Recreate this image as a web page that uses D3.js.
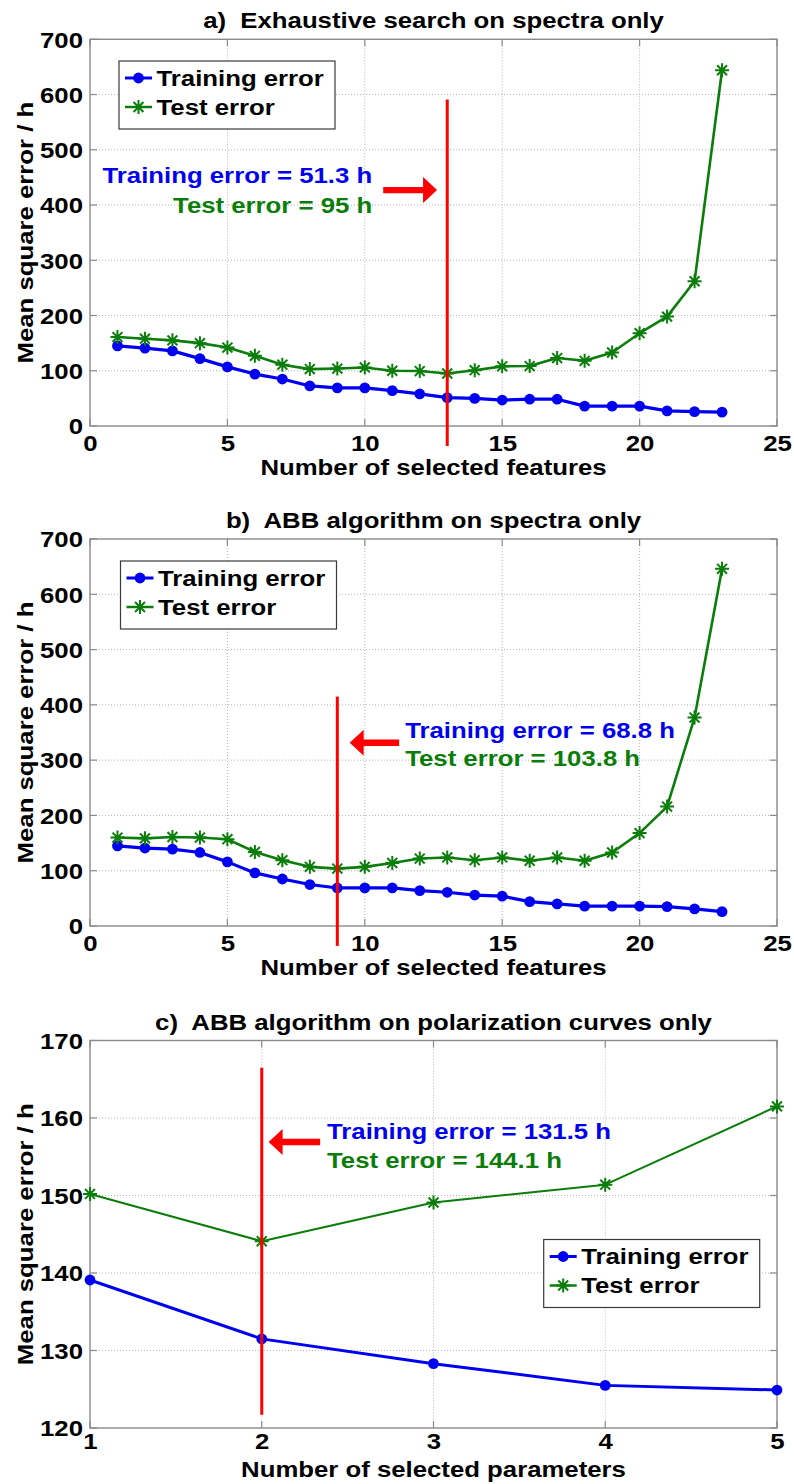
<!DOCTYPE html>
<html><head><meta charset="utf-8">
<script src="https://cdn.jsdelivr.net/npm/d3@7"></script>
<style>
body{margin:0;background:#fff}
svg{display:block}
text{font-family:"Liberation Sans",Arial,Helvetica,sans-serif;font-weight:bold;white-space:pre}
</style>
</head><body>
<svg id="chart" width="794" height="1484"></svg>
<script>
// ---------------- data ----------------
const features = [1,2,3,4,5,6,7,8,9,10,11,12,13,14,15,16,17,18,19,20,21,22,23];
const parameters = [1,2,3,4,5];

const trainA = [145,141,136,122,107,94,85,72.5,69,69,64,58,51.3,50,47,48.5,48.5,36,36,36,27.5,26,25];
const testA  = [161,158,155,150,142,127,111,103,104,106,100,99.5,95,101,108,108.5,123,118,133,168,198,262,644];

const trainB = [145,141,139,133,116,96,85,75,68.8,69,69,64,61,56,54,44,40,36,36,36,35,31,26];
const testB  = [160,158.5,161,160,157,134,119,107,103.8,107,114,122,124,119,124,118,124,118,133,168,216,377,646];

const trainC = [139.1,131.5,128.3,125.5,124.9];
const testC  = [150.2,144.1,149.1,151.4,161.5];

const titles = ["a)  Exhaustive search on spectra only", "b)  ABB algorithm on spectra only", "c)  ABB algorithm on polarization curves only"];
const xTitles = ["Number of selected features", "Number of selected features", "Number of selected parameters"];
const yTitle = "Mean square error / h";
const seriesNames = ["Training error", "Test error"];

const xTicksAB = [0,5,10,15,20,25];
const yTicksAB = [0,100,200,300,400,500,600,700];
const xTicksC = [1,2,3,4,5];
const yTicksC = [120,130,140,150,160,170];

const selected = [13, 9, 2];
const noteTrain = ["Training error = 51.3 h", "Training error = 68.8 h", "Training error = 131.5 h"];
const noteTest  = ["Test error = 95 h", "Test error = 103.8 h", "Test error = 144.1 h"];

// ---------------- style / layout ----------------
const SX = 1.16, FS = 22.2;
const BLUE = "#0000f0", GREEN = "#0a7d0a", RED = "#ff0000", FRAME = "#8a8a8a";
const X0 = 90, X1 = 777;

const panels = [
  {top:39.3, bottom:426, xDomain:[0,25], yDomain:[0,700], xt:xTicksAB, yt:yTicksAB, xs:features, train:trainA, test:testA,
   selRange:[-36,591], arrow:{y:427, tail:10.67, tip:12.63}, note:{x:10.27, y1:454, y2:400, anchor:"end"},
   legend:{dx:29, dy:21.7}, tickGap:17, xTitleGap:49, lw:[3.2,2.6]},
  {top:539, bottom:926, xDomain:[0,25], yDomain:[0,700], xt:xTicksAB, yt:yTicksAB, xs:features, train:trainB, test:testB,
   selRange:[-36,415], arrow:{y:331.5, tail:11.25, tip:9.45}, note:{x:11.47, y1:354.4, y2:303.8, anchor:"start"},
   legend:{dx:30.5, dy:22}, tickGap:17, xTitleGap:49, lw:[3.2,2.6]},
  {top:1040.5, bottom:1428, xDomain:[1,5], yDomain:[120,170], xt:xTicksC, yt:yTicksC, xs:parameters, train:trainC, test:testC,
   selRange:[121.7,166.5], arrow:{y:156.9, tail:2.34, tip:2.04}, note:{x:2.38, y1:158.3, y2:154.6, anchor:"start"},
   legend:{dx:453.7, dy:199}, tickGap:13, xTitleGap:48.5, lw:[3,2]}
];

const svg = d3.select("#chart");

function label(g, x, y, str, o = {}) {
  const t = g.append("g").attr("transform",
    `translate(${x},${y})` + (o.rot ? ` rotate(${o.rot})` : "") + ` scale(${SX},1)`);
  t.append("text")
    .attr("text-anchor", o.anchor || "start")
    .attr("dy", o.dy === undefined ? "0.35em" : o.dy)
    .attr("font-size", o.size || FS)
    .attr("fill", o.color || "#000")
    .text(str);
  return t;
}

function star(g, cx, cy, r, color, w) {
  const d = r * Math.SQRT1_2;
  g.append("path")
    .attr("d", `M${cx-r},${cy}H${cx+r}M${cx},${cy-r}V${cy+r}M${cx-d},${cy-d}L${cx+d},${cy+d}M${cx-d},${cy+d}L${cx+d},${cy-d}`)
    .attr("stroke", color).attr("stroke-width", w).attr("fill", "none");
}

panels.forEach((p, k) => {
  const g = svg.append("g");
  const x = d3.scaleLinear().domain(p.xDomain).range([X0, X1]);
  const y = d3.scaleLinear().domain(p.yDomain).range([p.bottom, p.top]);

  // grid
  const grid = g.append("g").attr("stroke", "#b5b5b5").attr("stroke-width", 1).attr("stroke-dasharray", "1,2");
  grid.selectAll(".gx").data(p.xt.slice(1, -1)).join("line")
    .attr("x1", d => x(d)).attr("x2", d => x(d)).attr("y1", p.top).attr("y2", p.bottom);
  grid.selectAll(".gy").data(p.yt.slice(1, -1)).join("line")
    .attr("x1", X0).attr("x2", X1).attr("y1", d => y(d)).attr("y2", d => y(d));

  // frame + inward ticks
  g.append("rect").attr("x", X0).attr("y", p.top).attr("width", X1 - X0).attr("height", p.bottom - p.top)
    .attr("fill", "none").attr("stroke", FRAME).attr("stroke-width", 1.4);
  const tk = g.append("g").attr("stroke", FRAME).attr("stroke-width", 1.2);
  p.xt.forEach(v => {
    tk.append("line").attr("x1", x(v)).attr("x2", x(v)).attr("y1", p.bottom).attr("y2", p.bottom - 7);
    tk.append("line").attr("x1", x(v)).attr("x2", x(v)).attr("y1", p.top).attr("y2", p.top + 7);
  });
  p.yt.forEach(v => {
    tk.append("line").attr("x1", X0).attr("x2", X0 + 7).attr("y1", y(v)).attr("y2", y(v));
    tk.append("line").attr("x1", X1).attr("x2", X1 - 7).attr("y1", y(v)).attr("y2", y(v));
  });

  // axes (labels only)
  const gx = g.append("g").attr("transform", `translate(0,${p.bottom})`)
    .call(d3.axisBottom(x).tickValues(p.xt).tickSize(0).tickFormat(d3.format("d")));
  gx.select(".domain").remove();
  gx.attr("font-size", FS).attr("font-family", null);
  gx.selectAll("text").attr("fill", "#000").attr("y", 0).attr("dy", "0.35em")
    .attr("transform", `translate(0,${p.tickGap}) scale(${SX},1)`);

  const gy = g.append("g").attr("transform", `translate(${X0},0)`)
    .call(d3.axisLeft(y).tickValues(p.yt).tickSize(0).tickFormat(d3.format("d")));
  gy.select(".domain").remove();
  gy.attr("font-size", FS).attr("font-family", null);
  gy.selectAll("text").attr("fill", "#000").attr("x", 0).attr("dy", "0.35em")
    .attr("transform", `translate(-7,0) scale(${SX},1)`);

  // titles
  label(g, (X0 + X1) / 2, p.top - 11, titles[k], {anchor: "middle", dy: 0});
  label(g, (X0 + X1) / 2, p.bottom + p.xTitleGap, xTitles[k], {anchor: "middle", dy: 0});
  label(g, 33, (p.top + p.bottom) / 2, yTitle, {anchor: "middle", dy: 0, rot: -90});

  // series
  const line = d3.line().x((d, i) => x(p.xs[i])).y(d => y(d));
  g.append("path").datum(p.train).attr("d", line).attr("fill", "none")
    .attr("stroke", BLUE).attr("stroke-width", p.lw[0]).attr("stroke-linejoin", "round");
  g.append("g").selectAll("circle").data(p.train).join("circle")
    .attr("cx", (d, i) => x(p.xs[i])).attr("cy", d => y(d)).attr("r", 5.4).attr("fill", BLUE);

  g.append("path").datum(p.test).attr("d", line).attr("fill", "none")
    .attr("stroke", GREEN).attr("stroke-width", p.lw[1]).attr("stroke-linejoin", "round");
  const sg = g.append("g");
  p.test.forEach((d, i) => star(sg, x(p.xs[i]), y(d), 7, GREEN, 2));

  // selection marker line
  g.append("line").attr("x1", x(selected[k])).attr("x2", x(selected[k]))
    .attr("y1", y(p.selRange[0])).attr("y2", y(p.selRange[1]))
    .attr("stroke", RED).attr("stroke-width", 3);

  // arrow
  const ay = y(p.arrow.y), xt = x(p.arrow.tail), xp = x(p.arrow.tip);
  const dir = Math.sign(xp - xt), hl = 14, hw = 13, sw = 3.2;
  const hb = xp - dir * hl;
  g.append("path").attr("fill", RED)
    .attr("d", `M${xt},${ay - sw}L${hb},${ay - sw}L${hb},${ay - hw}L${xp},${ay}L${hb},${ay + hw}L${hb},${ay + sw}L${xt},${ay + sw}Z`);

  // notes
  label(g, x(p.note.x), y(p.note.y1), noteTrain[k], {anchor: p.note.anchor, color: BLUE});
  label(g, x(p.note.x), y(p.note.y2), noteTest[k], {anchor: p.note.anchor, color: GREEN});

  // legend
  const lx = X0 + p.legend.dx, ly = p.top + p.legend.dy, lwid = 216, lh = 68;
  const lg = g.append("g");
  lg.append("rect").attr("x", lx).attr("y", ly).attr("width", lwid).attr("height", lh)
    .attr("fill", "#fff").attr("stroke", "#3a3a3a").attr("stroke-width", 1.2);
  [17, 46].forEach((oy, j) => {
    const yy = ly + oy, col = j === 0 ? BLUE : GREEN;
    lg.append("line").attr("x1", lx + 6).attr("x2", lx + 33).attr("y1", yy).attr("y2", yy)
      .attr("stroke", col).attr("stroke-width", j === 0 ? 3 : 2.5);
    if (j === 0) lg.append("circle").attr("cx", lx + 19.5).attr("cy", yy).attr("r", 5.4).attr("fill", col);
    else star(lg, lx + 19.5, yy, 7, col, 2);
    label(lg, lx + 37.5, yy, seriesNames[j], {});
  });
});
</script>
</body></html>
